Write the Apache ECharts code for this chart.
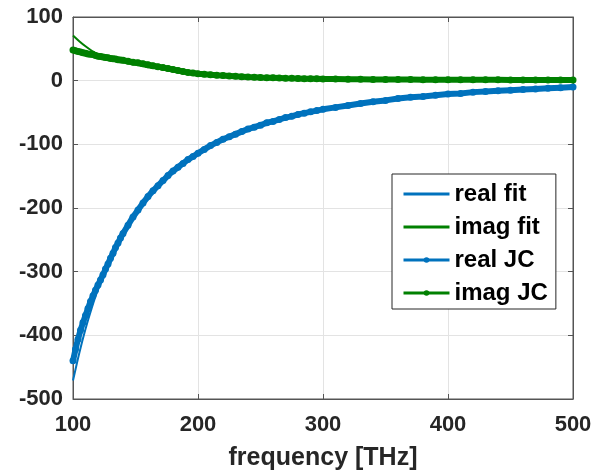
<!DOCTYPE html>
<html style="height: 100%">
   <head>
       <meta charset="utf-8">
   </head>
   <body style="height: 100%; margin: 0; background: #fff">
       <div id="container" style="width: 614px; height: 476px"></div>
       <script type="text/javascript" src="https://cdn.jsdelivr.net/npm/echarts@6/dist/echarts.min.js"></script>

       <script type="text/javascript">
// fitted model
var freqFit = [100, 105, 110, 115, 120, 130, 140, 150, 160, 170, 180, 190, 200, 220, 240, 260, 280, 300, 325, 350, 375, 400, 425, 450, 475, 500];
var realFit = [-471, -428, -390, -357, -328, -279, -240, -208, -182, -161, -142, -127, -114, -92, -76, -64, -53, -45, -37, -31, -25, -21, -18, -15, -12, -10];
var imagFit = [71, 62, 54, 47, 41, 34, 29, 25, 21, 18, 15, 12, 10, 7.5, 5.8, 4.5, 3.6, 2.9, 2.3, 1.9, 1.6, 1.3, 1.1, 1.0, 0.8, 0.7];

// Johnson & Christy points (dotted band)
var freqJC = [100, 102, 104, 106, 108, 110, 112, 114, 116, 118, 120, 122, 124, 126, 128, 130, 132, 134, 136, 138, 140,
    144, 148, 152, 156, 160, 164, 168, 172, 176, 180, 184, 188, 192, 196, 200,
    205, 210, 215, 220, 225, 230, 235, 240, 245, 250, 255, 260, 265, 270, 275, 280, 285, 290, 295, 300,
    310, 320, 330, 340, 350, 360, 370, 380, 390, 400, 410, 420, 430, 440, 450, 460, 470, 480, 490, 500];
var realJC = [-440, -422, -406, -392, -380, -369, -358, -347, -338, -329, -321, -313, -305, -296, -288, -279, -271, -262, -255, -247, -240,
    -227, -214, -203, -192, -182, -173, -165, -157, -149, -142, -136, -130, -124, -119, -114,
    -108, -102, -97, -92, -88, -84, -80, -76, -73, -70, -66, -64, -61, -58, -56, -53, -51, -49, -47, -45,
    -42, -39, -36, -33, -31, -28, -26, -25, -23, -21, -20, -18, -17, -16, -15, -14, -13, -12, -11, -10];
var imagJC = [48, 47, 46, 45, 44, 43, 42, 41.5, 41, 39.5, 38.5, 38, 37, 36.5, 36, 35, 34.5, 34, 33, 32.5, 32,
    30.5, 29, 28, 26.5, 25, 23.5, 22, 20.5, 19, 17.5, 16, 14.5, 13, 12, 11,
    10, 9.3, 8.6, 8, 7.4, 6.8, 6.3, 5.8, 5.4, 5, 4.7, 4.4, 4.1, 3.8, 3.6, 3.4, 3.2, 3, 2.9, 2.7,
    2.5, 2.3, 2.2, 2, 1.9, 1.8, 1.7, 1.6, 1.5, 1.5, 1.4, 1.4, 1.3, 1.3, 1.2, 1.2, 1.2, 1.1, 1.1, 1.1];

var blue = '#0072BD';
var green = '#008000';
var axisColor = '#555555';
var font = 'Liberation Sans, Arial, sans-serif';

function pairs(xs, ys) {
    var out = [];
    for (var i = 0; i < xs.length; i++) {
        out.push([xs[i], ys[i]]);
    }
    return out;
}

function sideAxis(pos, min, max) {
    return {
        type: 'value',
        position: pos,
        min: min,
        max: max,
        interval: 100,
        axisLine: {show: true, onZero: false, lineStyle: {color: axisColor}},
        axisTick: {show: true, inside: true, length: 5, lineStyle: {color: axisColor}},
        axisLabel: {show: false},
        splitLine: {show: false}
    };
}

var myChart = echarts.init(document.getElementById('container'), null, {renderer: 'canvas'});

var tickFont = {
    fontFamily: font,
    fontWeight: 'bold',
    fontSize: 22,
    color: '#262626'
};

var option = {
    animation: false,
    backgroundColor: '#fff',
    grid: {
        left: 73,
        right: 41,
        top: 17,
        bottom: 75,
        show: true,
        borderColor: axisColor,
        borderWidth: 1
    },
    legend: {
        orient: 'vertical',
        left: 392,
        top: 174,
        padding: [6, 8, 2, 10],
        itemWidth: 46,
        itemHeight: 7,
        itemGap: 5,
        backgroundColor: '#fff',
        borderColor: '#262626',
        borderWidth: 1,
        borderRadius: 0,
        textStyle: {
            fontFamily: font,
            fontWeight: 'bold',
            fontSize: 24,
            lineHeight: 28,
            color: '#000'
        },
        data: [
            {name: 'real fit', lineStyle: {width: 3}, itemStyle: {opacity: 0}},
            {name: 'imag fit', lineStyle: {width: 3}, itemStyle: {opacity: 0}},
            {name: 'real JC', lineStyle: {width: 3}},
            {name: 'imag JC', lineStyle: {width: 3}}
        ]
    },
    xAxis: [{
        type: 'value',
        min: 100,
        max: 500,
        interval: 100,
        name: 'frequency [THz]',
        nameLocation: 'middle',
        nameGap: 47,
        nameTextStyle: {
            fontFamily: font,
            fontWeight: 'bold',
            fontSize: 25,
            color: '#262626'
        },
        axisLine: {show: true, onZero: false, lineStyle: {color: axisColor}},
        axisTick: {show: true, inside: true, length: 5, lineStyle: {color: axisColor}},
        axisLabel: Object.assign({margin: 15, showMinLabel: true, showMaxLabel: true}, tickFont),
        splitLine: {show: true, lineStyle: {color: '#e3e3e3'}}
    }, sideAxis('top', 100, 500)],
    yAxis: [{
        type: 'value',
        min: -500,
        max: 100,
        interval: 100,
        axisLine: {show: true, onZero: false, lineStyle: {color: axisColor}},
        axisTick: {show: true, inside: true, length: 5, lineStyle: {color: axisColor}},
        axisLabel: Object.assign({margin: 10, showMinLabel: true, showMaxLabel: true}, tickFont),
        splitLine: {show: true, lineStyle: {color: '#e3e3e3'}}
    }, sideAxis('right', -500, 100)],
    series: [{
        name: 'real fit',
        type: 'line',
        symbol: 'none',
        smooth: 0.3,
        lineStyle: {color: blue, width: 2},
        itemStyle: {color: blue},
        data: pairs(freqFit, realFit)
    }, {
        name: 'imag fit',
        type: 'line',
        symbol: 'none',
        smooth: 0.3,
        lineStyle: {color: green, width: 2},
        itemStyle: {color: green},
        data: pairs(freqFit, imagFit)
    }, {
        name: 'real JC',
        type: 'line',
        symbol: 'circle',
        symbolSize: 7,
        showAllSymbol: true,
        lineStyle: {color: blue, width: 6},
        itemStyle: {color: blue},
        data: pairs(freqJC, realJC)
    }, {
        name: 'imag JC',
        type: 'line',
        symbol: 'circle',
        symbolSize: 7,
        showAllSymbol: true,
        lineStyle: {color: green, width: 6},
        itemStyle: {color: green},
        data: pairs(freqJC, imagJC)
    }]
};

myChart.setOption(option);
       </script>
   </body>
</html>
